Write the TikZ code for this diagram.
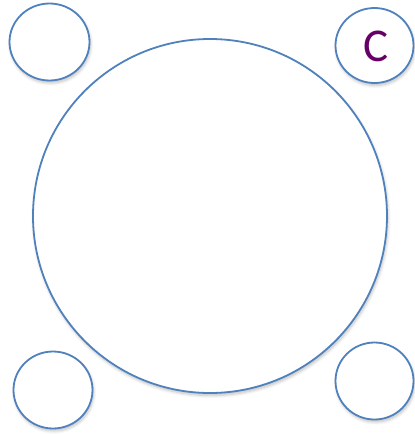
\documentclass[tikz,border=0pt]{standalone}
\usepackage{fontspec}
\setmainfont{Carlito}
\usetikzlibrary{shadows.blur}
\definecolor{ringblue}{HTML}{4F81BD}
\definecolor{cpurple}{HTML}{660066}
\begin{document}
\begin{tikzpicture}[x=1pt,y=-1pt,
  ring/.style={draw=ringblue,line width=1.8pt,fill=white,
    blur shadow={shadow xshift=1pt,shadow yshift=-2.5pt,shadow blur steps=6,shadow opacity=25,shadow blur radius=3pt}}]
\useasboundingbox (0,0) rectangle (415,434);
\path[ring] (210,216) ellipse [x radius=177,y radius=177];
\path[ring] (49.5,42) ellipse [x radius=40,y radius=38.5];
\path[ring] (374.5,45.5) ellipse [x radius=39,y radius=37.5];
\path[ring] (53,390) ellipse [x radius=39.5,y radius=38.5];
\path[ring] (374.5,381) ellipse [x radius=39,y radius=38.5];
\node[text=cpurple,font=\fontsize{47}{47}\selectfont,inner sep=0pt] (c) at (376,46) {C};
\end{tikzpicture}
\end{document}
